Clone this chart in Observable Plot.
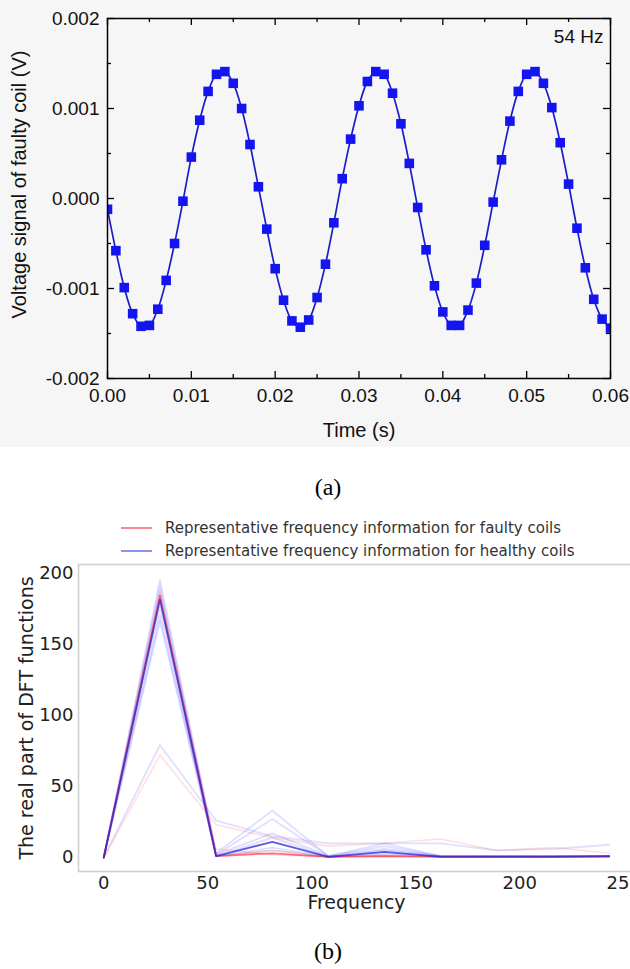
<!DOCTYPE html>
<html><head><meta charset="utf-8">
<script src="https://cdn.jsdelivr.net/npm/d3@7"></script>
<script src="https://cdn.jsdelivr.net/npm/@observablehq/plot@0.6"></script>
<style>
html,body{margin:0;padding:0;width:630px;height:969px;overflow:hidden;background:#fff;}
#a{position:absolute;left:0;top:0;width:630px;height:447px;background:#f6f6f6;}
#b{position:absolute;left:0;top:500px;width:640px;height:420px;}
.cap{position:absolute;left:0;width:656px;text-align:center;font-family:"Liberation Serif","Times New Roman",serif;font-size:24px;color:#000;line-height:28px;}
.lg-line{position:absolute;width:31px;height:1.6px;}
.lg-text{position:absolute;left:165px;font-family:"DejaVu Sans",sans-serif;font-size:15px;color:#333;line-height:18px;white-space:nowrap;}
</style></head><body>
<div id="a"></div>
<div class="cap" style="top:473px">(a)</div>
<div id="b"></div>
<div id="legend"></div>
<div class="cap" style="top:937px">(b)</div>
<script>
// ---------- Panel (a): voltage signal of faulty coil, 54 Hz ----------
const time = [0.000,0.001,0.002,0.003,0.004,0.005,0.006,0.007,0.008,0.009,
  0.010,0.011,0.012,0.013,0.014,0.015,0.016,0.017,0.018,0.019,
  0.020,0.021,0.022,0.023,0.024,0.025,0.026,0.027,0.028,0.029,
  0.030,0.031,0.032,0.033,0.034,0.035,0.036,0.037,0.038,0.039,
  0.040,0.041,0.042,0.043,0.044,0.045,0.046,0.047,0.048,0.049,
  0.050,0.051,0.052,0.053,0.054,0.055,0.056,0.057,0.058,0.059,0.060];
const voltage = [-0.00012,-0.00058,-0.00099,-0.00128,-0.00142,-0.00141,-0.00123,-0.00091,-0.00050,-0.00003,
  0.00046,0.00087,0.00119,0.00138,0.00141,0.00128,0.00100,0.00060,0.00013,-0.00034,
  -0.00078,-0.00113,-0.00136,-0.00143,-0.00135,-0.00110,-0.00073,-0.00027,0.00022,0.00066,
  0.00103,0.00130,0.00141,0.00138,0.00117,0.00083,0.00039,-0.00010,-0.00057,-0.00097,
  -0.00126,-0.00141,-0.00141,-0.00124,-0.00094,-0.00052,-0.00004,0.00043,0.00086,0.00119,
  0.00138,0.00141,0.00128,0.00101,0.00062,0.00016,-0.00033,-0.00077,-0.00112,-0.00134,-0.00144];
const xMajorA = [0,0.01,0.02,0.03,0.04,0.05,0.06];
const xMinorA = [0.005,0.015,0.025,0.035,0.045,0.055];
const yMajorA = [-0.002,-0.001,0,0.001,0.002];
const yMinorA = [-0.0015,-0.0005,0.0005,0.0015];
const labelA = {x: "Time (s)", y: "Voltage signal of faulty coil (V)", note: "54 Hz"};

// ---------- Panel (b): real part of DFT ----------
const freqs = [0,27,54,81,108,135,162,189,216,243];
const faultyRep  = [0,184,1,3,0.5,1,0.5,0.5,0.5,0.5];
const healthyRep = [0,181,1,11,0.5,4,0.5,0.5,0.5,1];
const healthyRun1 = [0,195,3,33,1,10,1,1,1,1];
const healthyRun2 = [0,191,2,27,1,8,1,1,1,1];
const healthyRun3 = [0,187,2,17,1,6,1,1,1,1];
const healthyRun4 = [0,176,1,14,0.5,5,1,1,1,1];
const healthyRun5 = [0,170,1,7,0.5,3,1,1,1,1];
const healthyRun6 = [0,166,1,5,0.5,2,1,1,1,1];
const healthyRun7 = [0,79,26,15,10,10,10,5,6,9];
const faultyRun1 = [0,72,23,14,8,10,13,5,7,3];
const faultyRun2 = [0,186,1,5,1,1,1,1,1,1];
const faultyRun3 = [0,182,6,2,0.5,1,0.5,0.5,0.5,0.5];
const xTicksB = [0,50,100,150,200,250];
const yTicksB = [0,50,100,150,200];
const legendLabels = ["Representative frequency information for faulty coils",
                      "Representative frequency information for healthy coils"];
const labelB = {x: "Frequency", y: "The real part of DFT functions"};

// ---------- draw (a) ----------
const sig = time.map((t, i) => ({t, v: voltage[i]}));
const WA = 630, HA = 447, mLA = 107, mRA = 20, mTA = 18, mBA = 69;
const pWA = WA - mLA - mRA, pHA = HA - mTA - mBA;
const major = 7, minor = 4;
const tickStyle = {stroke: "#000", strokeWidth: 1.3};
const chartA = Plot.plot({
  width: WA, height: HA, marginLeft: mLA, marginRight: mRA, marginTop: mTA, marginBottom: mBA,
  style: {background: "transparent", fontFamily: "'Liberation Sans', Arial, sans-serif", fontSize: "19px", color: "#111", maxWidth: "none"},
  x: {domain: [0, 0.06], label: null},
  y: {domain: [-0.002, 0.002], label: null},
  marks: [
    Plot.axisX(xMajorA, {tickSize: 0, tickPadding: 10, tickFormat: d => d.toFixed(2), fontSize: 19}),
    Plot.axisY(yMajorA, {tickSize: 0, tickPadding: 8, tickFormat: d => d.toFixed(3), fontSize: 19}),
    Plot.tickX(xMajorA, {x: d => d, insetTop: pHA - major, ...tickStyle}),
    Plot.tickX(xMajorA, {x: d => d, insetBottom: pHA - major, ...tickStyle}),
    Plot.tickX(xMinorA, {x: d => d, insetTop: pHA - minor, ...tickStyle}),
    Plot.tickX(xMinorA, {x: d => d, insetBottom: pHA - minor, ...tickStyle}),
    Plot.tickY(yMajorA, {y: d => d, insetRight: pWA - major, ...tickStyle}),
    Plot.tickY(yMajorA, {y: d => d, insetLeft: pWA - major, ...tickStyle}),
    Plot.tickY(yMinorA, {y: d => d, insetRight: pWA - minor, ...tickStyle}),
    Plot.tickY(yMinorA, {y: d => d, insetLeft: pWA - minor, ...tickStyle}),
    Plot.line(sig, {x: "t", y: "v", stroke: "#1c1cc8", strokeWidth: 1.7, curve: "catmull-rom", clip: true}),
    Plot.dot(sig, {x: "t", y: "v", symbol: "square", r: 5.4, fill: "#1414f0", stroke: "none", clip: true}),
    Plot.frame({stroke: "#000", strokeWidth: 1.5}),
    Plot.text([labelA.note], {frameAnchor: "top-right", textAnchor: "end", lineAnchor: "middle", dx: -7, dy: 18, fontSize: 19, fill: "#111"}),
    Plot.text([labelA.x], {frameAnchor: "bottom", textAnchor: "middle", lineAnchor: "middle", dy: 52, fontSize: 20, fill: "#111"}),
    Plot.text([labelA.y], {frameAnchor: "left", textAnchor: "middle", lineAnchor: "middle", rotate: -90, dx: -88, dy: -14, fontSize: 20, fill: "#111"})
  ]
});
document.getElementById("a").appendChild(chartA);

// ---------- draw (b) ----------
const runs = [
  {name: "h1", kind: "healthy", vals: healthyRun1},
  {name: "h2", kind: "healthy", vals: healthyRun2},
  {name: "h3", kind: "healthy", vals: healthyRun3},
  {name: "h4", kind: "healthy", vals: healthyRun4},
  {name: "h5", kind: "healthy", vals: healthyRun5},
  {name: "h6", kind: "healthy", vals: healthyRun6},
  {name: "h7", kind: "healthy", vals: healthyRun7},
  {name: "f1", kind: "faulty", vals: faultyRun1},
  {name: "f2", kind: "faulty", vals: faultyRun2},
  {name: "f3", kind: "faulty", vals: faultyRun3}
];
const faint = runs.flatMap(r => freqs.map((f, i) => ({f, v: r.vals[i], name: r.name, kind: r.kind})));
const repF = freqs.map((f, i) => ({f, v: faultyRep[i]}));
const repH = freqs.map((f, i) => ({f, v: healthyRep[i]}));

const chartB = Plot.plot({
  width: 640, height: 420, marginLeft: 78, marginRight: 6, marginTop: 64, marginBottom: 49,
  style: {background: "transparent", fontFamily: "'DejaVu Sans', sans-serif", fontSize: "18px", color: "#222", maxWidth: "none"},
  x: {domain: [-12.15, 255.15], label: null},
  y: {domain: [-9.8, 205.8], label: null},
  marks: [
    Plot.axisX(xTicksB, {tickSize: 0, tickPadding: 5, fontSize: 18}),
    Plot.axisY(yTicksB, {tickSize: 0, tickPadding: 5, fontSize: 18}),
    Plot.frame({stroke: "#cfcfcf", strokeWidth: 1.6}),
    Plot.line(faint.filter(d => d.kind === "healthy"), {x: "f", y: "v", z: "name", stroke: "#3a3aff", strokeOpacity: 0.16, strokeWidth: 1.8}),
    Plot.line(faint.filter(d => d.kind === "faulty"), {x: "f", y: "v", z: "name", stroke: "#ff3a3a", strokeOpacity: 0.16, strokeWidth: 1.6}),
    Plot.line(repF, {x: "f", y: "v", stroke: "#ff1020", strokeOpacity: 0.6, strokeWidth: 1.8}),
    Plot.line(repH, {x: "f", y: "v", stroke: "#2424d8", strokeOpacity: 0.75, strokeWidth: 1.8}),
    Plot.text([labelB.x], {frameAnchor: "bottom", textAnchor: "middle", lineAnchor: "middle", dy: 31, fontSize: 19, fill: "#222"}),
    Plot.text([labelB.y], {frameAnchor: "left", textAnchor: "middle", lineAnchor: "middle", rotate: -90, dx: -52, fontSize: 19, fill: "#222"})
  ]
});
document.getElementById("b").appendChild(chartB);

// ---------- legend (b) ----------
const legendColors = ["rgba(240,60,70,0.6)", "rgba(70,70,235,0.6)"];
const legend = document.getElementById("legend");
legendLabels.forEach((txt, i) => {
  const cy = 528 + i * 23;
  const ln = document.createElement("div");
  ln.className = "lg-line";
  ln.style.left = "121px"; ln.style.top = (cy - 0.8) + "px"; ln.style.background = legendColors[i];
  const tx = document.createElement("div");
  tx.className = "lg-text";
  tx.style.top = (cy - 9) + "px";
  tx.textContent = txt;
  legend.appendChild(ln); legend.appendChild(tx);
});
</script>
</body></html>
